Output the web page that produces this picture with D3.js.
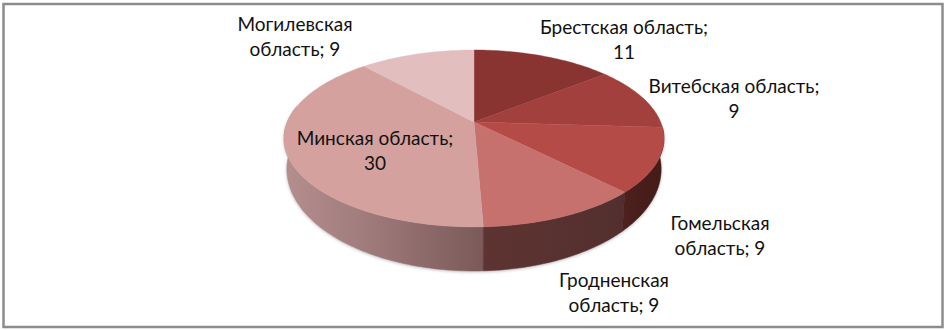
<!DOCTYPE html>
<html lang="ru">
<head>
<meta charset="UTF-8">
<title>Области</title>
<script src="https://d3js.org/d3.v7.min.js"></script>
<style>
    html, body { margin: 0; padding: 0; background: #fff; }
    svg { display: block; }
    text { font-family: Lato, "Open Sans", sans-serif; font-size: 19px; fill: #111; }
    .walls { filter: drop-shadow(0 1px 1.5px rgba(0,0,0,.25)); }
</style>
</head>
<body>
<svg id="chart" width="946" height="330"></svg>
<script>
    var categories = ["Брестская область", "Витебская область", "Гомельская область", "Гродненская область", "Минская область", "Могилевская область"];
    var values = [11, 9, 9, 9, 30, 9];
    var labelLines = [
        ["Брестская область;", "11"],
        ["Витебская область;", "9"],
        ["Гомельская", "область; 9"],
        ["Гродненская", "область; 9"],
        ["Минская область;", "30"],
        ["Могилевская", "область; 9"]
    ];
    var topColors = ["#8a3432", "#a1403d", "#b54b47", "#c6716d", "#d4a19e", "#e2bebf"];

    var svg = d3.select("#chart");

    // frame
    svg.append("rect")
        .attr("x", 3.5).attr("y", 4)
        .attr("width", 939).attr("height", 323)
        .attr("fill", "#fff")
        .attr("stroke", "#8c8c8c")
        .attr("stroke-width", 2.5);

    // the pie is tilted, so points go through a perspective projection of the unit disc
    var cx = 474, cy = 122, k = 0.186;
    var xScale = d3.scaleLinear().domain([-1, 1]).range([cx - 186.7, cx + 186.7]);
    var yScale = d3.scaleLinear().domain([-1, 1]).range([cy - 85.4, cy + 85.4]);

    function project(angle, bottom) {
        var u = Math.sin(angle), v = -Math.cos(angle), w = 1 - k * v;
        if (!bottom) return [xScale(u / w), yScale(v / w)];
        // bottom rim is a bit narrower and the wall gets taller towards the viewer
        return [xScale(0.985 * u / w), yScale(v / w) + 28.2 + 12.9 * v / w];
    }
    function rim(a0, a1, bottom) {
        var n = Math.max(2, Math.ceil(Math.abs(a1 - a0) / 0.02));
        return d3.range(n + 1).map(function(i) {
            return project(a0 + (a1 - a0) * i / n, bottom);
        });
    }

    var arcs = d3.pie().value(function(d) { return d; }).sort(null)(values);
    var line = d3.line();
    var defs = svg.append("defs");

    function wallGradient(id, stops) {
        var g = defs.append("linearGradient").attr("id", id)
            .attr("gradientUnits", "userSpaceOnUse")
            .attr("x1", 284).attr("x2", 664).attr("y1", 0).attr("y2", 0);
        stops.forEach(function(s) {
            g.append("stop").attr("offset", s[0]).attr("stop-color", s[1]);
        });
    }
    wallGradient("wall4", [[0, "#b58e8e"], [0.2, "#a27d7d"], [0.52, "#7b5a5a"]]);
    wallGradient("wall3", [[0.52, "#5e3432"], [0.9, "#522f2e"]]);
    wallGradient("wall2", [[0.88, "#4e211d"], [1, "#431b17"]]);

    // side wall, front half only
    var wallFill = { 2: "url(#wall2)", 3: "url(#wall3)", 4: "url(#wall4)" };
    var walls = svg.append("g").attr("class", "walls");
    [4, 3, 2].forEach(function(i) {
        var a = arcs[i];
        var start = Math.max(a.startAngle, Math.PI / 2 - 0.19);
        var end = Math.min(a.endAngle, 3 * Math.PI / 2 + 0.19);
        var pts = rim(start, end, false).concat(rim(end, start, true));
        walls.append("path")
            .attr("d", line(pts) + "Z")
            .attr("fill", wallFill[i])
            .attr("stroke", wallFill[i])
            .attr("stroke-width", 0.5);
    });

    // top face
    arcs.forEach(function(a, i) {
        var pts = [[xScale(0), yScale(0)]].concat(rim(a.startAngle, a.endAngle, false));
        svg.append("path")
            .attr("d", line(pts) + "Z")
            .attr("fill", topColors[i])
            .attr("stroke", topColors[i])
            .attr("stroke-width", 0.4);
    });

    // data labels
    var labelPos = [[624, 34], [734, 93], [720, 230], [614, 287], [375, 145], [295, 31]];
    labelLines.forEach(function(lines, i) {
        var t = svg.append("text")
            .attr("text-anchor", "middle")
            .attr("x", labelPos[i][0])
            .attr("y", labelPos[i][1]);
        lines.forEach(function(s, j) {
            t.append("tspan")
                .attr("x", labelPos[i][0])
                .attr("dy", j ? 25 : 0)
                .text(s);
        });
    });
</script>
</body>
</html>
